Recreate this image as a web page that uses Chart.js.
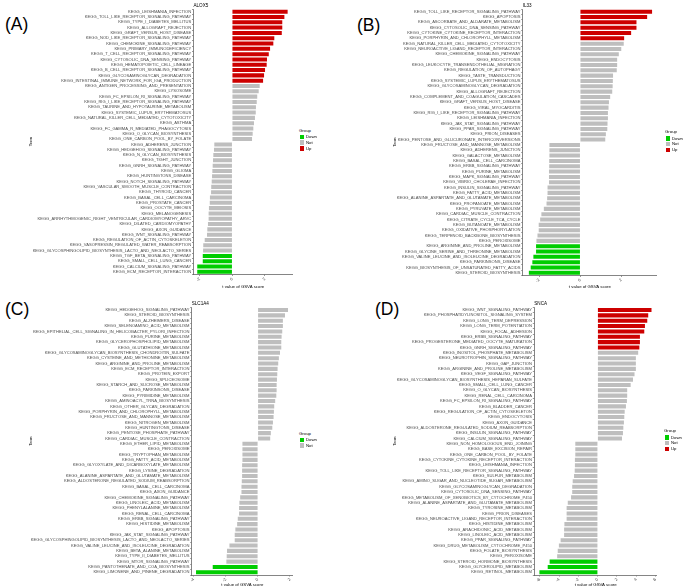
<!DOCTYPE html>
<html><head><meta charset="utf-8">
<script src="https://cdn.jsdelivr.net/npm/chart.js@4.4.0/dist/chart.umd.min.js"></script>
<style>
html,body{margin:0;padding:0;background:#fff}
body{width:685px;height:588px;position:relative;overflow:hidden;font-family:"Liberation Sans",Arial,sans-serif}
.panel{position:absolute}
.letter{position:absolute;font-size:17.5px;line-height:1;color:#000}
.lg{position:absolute;font-size:4.3px;line-height:1;color:#000;white-space:nowrap}
.sq{position:absolute;width:4.3px;height:4.3px}
</style>
</head><body>
<div class="letter" style="left:5px;top:16px">(A)</div>
<div class="letter" style="left:357px;top:17px">(B)</div>
<div class="letter" style="left:5px;top:301px">(C)</div>
<div class="letter" style="left:375px;top:301px">(D)</div>
<script>
const FONT = '"Liberation Sans", Arial, sans-serif';
const groupColors = {Up:'#CD0000', Not:'#BEBEBE', Down:'#00CD00'};
const legendOrder = ['Down','Not','Up'];
const axisTitle = 't value of GSVA score';

// ---------- Panel A : ALOX5 ----------
const aTitle = 'ALOX5';
const aTerms = ['KEGG_LEISHMANIA_INFECTION','KEGG_TOLL_LIKE_RECEPTOR_SIGNALING_PATHWAY','KEGG_TYPE_I_DIABETES_MELLITUS','KEGG_ALLOGRAFT_REJECTION','KEGG_GRAFT_VERSUS_HOST_DISEASE','KEGG_NOD_LIKE_RECEPTOR_SIGNALING_PATHWAY','KEGG_CHEMOKINE_SIGNALING_PATHWAY','KEGG_PRIMARY_IMMUNODEFICIENCY','KEGG_T_CELL_RECEPTOR_SIGNALING_PATHWAY','KEGG_CYTOSOLIC_DNA_SENSING_PATHWAY','KEGG_HEMATOPOIETIC_CELL_LINEAGE','KEGG_B_CELL_RECEPTOR_SIGNALING_PATHWAY','KEGG_GLYCOSAMINOGLYCAN_DEGRADATION','KEGG_INTESTINAL_IMMUNE_NETWORK_FOR_IGA_PRODUCTION','KEGG_ANTIGEN_PROCESSING_AND_PRESENTATION','KEGG_LYSOSOME','KEGG_FC_EPSILON_RI_SIGNALING_PATHWAY','KEGG_RIG_I_LIKE_RECEPTOR_SIGNALING_PATHWAY','KEGG_TAURINE_AND_HYPOTAURINE_METABOLISM','KEGG_SYSTEMIC_LUPUS_ERYTHEMATOSUS','KEGG_NATURAL_KILLER_CELL_MEDIATED_CYTOTOXICITY','KEGG_ASTHMA','KEGG_FC_GAMMA_R_MEDIATED_PHAGOCYTOSIS','KEGG_O_GLYCAN_BIOSYNTHESIS','KEGG_ONE_CARBON_POOL_BY_FOLATE','KEGG_ADHERENS_JUNCTION','KEGG_HEDGEHOG_SIGNALING_PATHWAY','KEGG_N_GLYCAN_BIOSYNTHESIS','KEGG_TIGHT_JUNCTION','KEGG_GNRH_SIGNALING_PATHWAY','KEGG_GLIOMA','KEGG_HUNTINGTONS_DISEASE','KEGG_NOTCH_SIGNALING_PATHWAY','KEGG_VASCULAR_SMOOTH_MUSCLE_CONTRACTION','KEGG_THYROID_CANCER','KEGG_BASAL_CELL_CARCINOMA','KEGG_PROSTATE_CANCER','KEGG_OOCYTE_MEIOSIS','KEGG_MELANOGENESIS','KEGG_ARRHYTHMOGENIC_RIGHT_VENTRICULAR_CARDIOMYOPATHY_ARVC','KEGG_DILATED_CARDIOMYOPATHY','KEGG_AXON_GUIDANCE','KEGG_WNT_SIGNALING_PATHWAY','KEGG_REGULATION_OF_ACTIN_CYTOSKELETON','KEGG_VASOPRESSIN_REGULATED_WATER_REABSORPTION','KEGG_GLYCOSPHINGOLIPID_BIOSYNTHESIS_LACTO_AND_NEOLACTO_SERIES','KEGG_TGF_BETA_SIGNALING_PATHWAY','KEGG_SMALL_CELL_LUNG_CANCER','KEGG_CALCIUM_SIGNALING_PATHWAY','KEGG_ECM_RECEPTOR_INTERACTION'];
const aValues = [3.41,3.21,3.08,3.08,3.05,2.59,2.53,2.33,2.25,2.14,2.12,2.02,1.96,1.90,1.69,1.63,1.54,1.51,1.46,1.45,1.40,1.34,1.30,1.26,1.22,-1.10,-1.12,-1.16,-1.18,-1.20,-1.22,-1.24,-1.26,-1.29,-1.30,-1.37,-1.38,-1.43,-1.45,-1.45,-1.49,-1.53,-1.55,-1.69,-1.78,-1.79,-1.81,-1.81,-2.15,-2.15];
const aGroups = ['Up','Up','Up','Up','Up','Up','Up','Up','Up','Up','Up','Up','Up','Up','Not','Not','Not','Not','Not','Not','Not','Not','Not','Not','Not','Not','Not','Not','Not','Not','Not','Not','Not','Not','Not','Not','Not','Not','Not','Not','Not','Not','Not','Not','Not','Not','Down','Down','Down','Down'];
const aTicks = [-2,0,2];

// ---------- Panel B : IL33 ----------
const bTitle = 'IL33';
const bTerms = ['KEGG_TOLL_LIKE_RECEPTOR_SIGNALING_PATHWAY','KEGG_APOPTOSIS','KEGG_ASCORBATE_AND_ALDARATE_METABOLISM','KEGG_CYTOSOLIC_DNA_SENSING_PATHWAY','KEGG_CYTOKINE_CYTOKINE_RECEPTOR_INTERACTION','KEGG_PORPHYRIN_AND_CHLOROPHYLL_METABOLISM','KEGG_NATURAL_KILLER_CELL_MEDIATED_CYTOTOXICITY','KEGG_NEUROACTIVE_LIGAND_RECEPTOR_INTERACTION','KEGG_CHEMOKINE_SIGNALING_PATHWAY','KEGG_ENDOCYTOSIS','KEGG_LEUKOCYTE_TRANSENDOTHELIAL_MIGRATION','KEGG_REGULATION_OF_AUTOPHAGY','KEGG_TASTE_TRANSDUCTION','KEGG_SYSTEMIC_LUPUS_ERYTHEMATOSUS','KEGG_GLYCOSAMINOGLYCAN_DEGRADATION','KEGG_ALLOGRAFT_REJECTION','KEGG_COMPLEMENT_AND_COAGULATION_CASCADES','KEGG_GRAFT_VERSUS_HOST_DISEASE','KEGG_VIRAL_MYOCARDITIS','KEGG_RIG_I_LIKE_RECEPTOR_SIGNALING_PATHWAY','KEGG_LEISHMANIA_INFECTION','KEGG_JAK_STAT_SIGNALING_PATHWAY','KEGG_PPAR_SIGNALING_PATHWAY','KEGG_PRION_DISEASES','KEGG_PENTOSE_AND_GLUCURONATE_INTERCONVERSIONS','KEGG_FRUCTOSE_AND_MANNOSE_METABOLISM','KEGG_ADHERENS_JUNCTION','KEGG_GALACTOSE_METABOLISM','KEGG_BASAL_CELL_CARCINOMA','KEGG_ERBB_SIGNALING_PATHWAY','KEGG_PURINE_METABOLISM','KEGG_MAPK_SIGNALING_PATHWAY','KEGG_VIBRIO_CHOLERAE_INFECTION','KEGG_INSULIN_SIGNALING_PATHWAY','KEGG_FATTY_ACID_METABOLISM','KEGG_ALANINE_ASPARTATE_AND_GLUTAMATE_METABOLISM','KEGG_PROPANOATE_METABOLISM','KEGG_PYRUVATE_METABOLISM','KEGG_CARDIAC_MUSCLE_CONTRACTION','KEGG_CITRATE_CYCLE_TCA_CYCLE','KEGG_BUTANOATE_METABOLISM','KEGG_OXIDATIVE_PHOSPHORYLATION','KEGG_TERPENOID_BACKBONE_BIOSYNTHESIS','KEGG_PEROXISOME','KEGG_ARGININE_AND_PROLINE_METABOLISM','KEGG_GLYCINE_SERINE_AND_THREONINE_METABOLISM','KEGG_VALINE_LEUCINE_AND_ISOLEUCINE_DEGRADATION','KEGG_PARKINSONS_DISEASE','KEGG_BIOSYNTHESIS_OF_UNSATURATED_FATTY_ACIDS','KEGG_STEROID_BIOSYNTHESIS'];
const bValues = [3.50,3.26,2.74,2.74,2.48,2.14,2.12,2.00,1.88,1.80,1.80,1.78,1.60,1.59,1.58,1.56,1.46,1.40,1.38,1.35,1.35,1.33,1.32,1.25,1.22,-1.50,-1.50,-1.50,-1.51,-1.51,-1.52,-1.52,-1.52,-1.59,-1.59,-1.61,-1.64,-1.77,-1.89,-1.95,-2.02,-2.02,-2.08,-2.13,-2.15,-2.15,-2.28,-2.33,-2.41,-2.50];
const bGroups = ['Up','Up','Up','Up','Up','Up','Not','Not','Not','Not','Not','Not','Not','Not','Not','Not','Not','Not','Not','Not','Not','Not','Not','Not','Not','Not','Not','Not','Not','Not','Not','Not','Not','Not','Not','Not','Not','Not','Not','Not','Not','Not','Not','Not','Down','Down','Down','Down','Down','Down'];
const bTicks = [-2,0,2];

// ---------- Panel C : SLC1A4 ----------
const cTitle = 'SLC1A4';
const cTerms = ['KEGG_HEDGEHOG_SIGNALING_PATHWAY','KEGG_STEROID_BIOSYNTHESIS','KEGG_ALZHEIMERS_DISEASE','KEGG_SELENOAMINO_ACID_METABOLISM','KEGG_EPITHELIAL_CELL_SIGNALING_IN_HELICOBACTER_PYLORI_INFECTION','KEGG_PURINE_METABOLISM','KEGG_GLYCEROPHOSPHOLIPID_METABOLISM','KEGG_GLUTATHIONE_METABOLISM','KEGG_GLYCOSAMINOGLYCAN_BIOSYNTHESIS_CHONDROITIN_SULFATE','KEGG_CYSTEINE_AND_METHIONINE_METABOLISM','KEGG_ARGININE_AND_PROLINE_METABOLISM','KEGG_ECM_RECEPTOR_INTERACTION','KEGG_PROTEIN_EXPORT','KEGG_SPLICEOSOME','KEGG_STARCH_AND_SUCROSE_METABOLISM','KEGG_PARKINSONS_DISEASE','KEGG_PYRIMIDINE_METABOLISM','KEGG_AMINOACYL_TRNA_BIOSYNTHESIS','KEGG_OTHER_GLYCAN_DEGRADATION','KEGG_PORPHYRIN_AND_CHLOROPHYLL_METABOLISM','KEGG_FRUCTOSE_AND_MANNOSE_METABOLISM','KEGG_NITROGEN_METABOLISM','KEGG_HUNTINGTONS_DISEASE','KEGG_PENTOSE_PHOSPHATE_PATHWAY','KEGG_CARDIAC_MUSCLE_CONTRACTION','KEGG_ETHER_LIPID_METABOLISM','KEGG_PEROXISOME','KEGG_TRYPTOPHAN_METABOLISM','KEGG_FATTY_ACID_METABOLISM','KEGG_GLYOXYLATE_AND_DICARBOXYLATE_METABOLISM','KEGG_LYSINE_DEGRADATION','KEGG_ALANINE_ASPARTATE_AND_GLUTAMATE_METABOLISM','KEGG_ALDOSTERONE_REGULATED_SODIUM_REABSORPTION','KEGG_BASAL_CELL_CARCINOMA','KEGG_AXON_GUIDANCE','KEGG_CHEMOKINE_SIGNALING_PATHWAY','KEGG_LINOLEIC_ACID_METABOLISM','KEGG_PHENYLALANINE_METABOLISM','KEGG_RENAL_CELL_CARCINOMA','KEGG_ERBB_SIGNALING_PATHWAY','KEGG_HISTIDINE_METABOLISM','KEGG_APOPTOSIS','KEGG_JAK_STAT_SIGNALING_PATHWAY','KEGG_GLYCOSPHINGOLIPID_BIOSYNTHESIS_LACTO_AND_NEOLACTO_SERIES','KEGG_VALINE_LEUCINE_AND_ISOLEUCINE_DEGRADATION','KEGG_BETA_ALANINE_METABOLISM','KEGG_TYPE_II_DIABETES_MELLITUS','KEGG_MTOR_SIGNALING_PATHWAY','KEGG_PANTOTHENATE_AND_COA_BIOSYNTHESIS','KEGG_LIMONENE_AND_PINENE_DEGRADATION'];
const cValues = [1.88,1.69,1.56,1.56,1.52,1.48,1.46,1.46,1.38,1.31,1.27,1.23,1.21,1.19,1.17,1.17,1.15,1.08,1.02,1.00,0.98,0.94,0.90,0.81,0.77,-0.96,-0.96,-0.96,-0.96,-0.98,-0.98,-0.98,-1.00,-1.02,-1.02,-1.10,-1.15,-1.17,-1.17,-1.25,-1.29,-1.40,-1.44,-1.44,-1.77,-1.92,-1.94,-1.96,-2.81,-3.85];
const cGroups = ['Not','Not','Not','Not','Not','Not','Not','Not','Not','Not','Not','Not','Not','Not','Not','Not','Not','Not','Not','Not','Not','Not','Not','Not','Not','Not','Not','Not','Not','Not','Not','Not','Not','Not','Not','Not','Not','Not','Not','Not','Not','Not','Not','Not','Not','Not','Not','Not','Down','Down'];
const cTicks = [-4,-2,0,2];

// ---------- Panel D : SNCA ----------
const dTitle = 'SNCA';
const dTerms = ['KEGG_WNT_SIGNALING_PATHWAY','KEGG_PHOSPHATIDYLINOSITOL_SIGNALING_SYSTEM','KEGG_LONG_TERM_DEPRESSION','KEGG_LONG_TERM_POTENTIATION','KEGG_FOCAL_ADHESION','KEGG_ERBB_SIGNALING_PATHWAY','KEGG_PROGESTERONE_MEDIATED_OOCYTE_MATURATION','KEGG_GNRH_SIGNALING_PATHWAY','KEGG_INOSITOL_PHOSPHATE_METABOLISM','KEGG_NEUROTROPHIN_SIGNALING_PATHWAY','KEGG_GAP_JUNCTION','KEGG_ARGININE_AND_PROLINE_METABOLISM','KEGG_VEGF_SIGNALING_PATHWAY','KEGG_GLYCOSAMINOGLYCAN_BIOSYNTHESIS_HEPARAN_SULFATE','KEGG_SMALL_CELL_LUNG_CANCER','KEGG_O_GLYCAN_BIOSYNTHESIS','KEGG_RENAL_CELL_CARCINOMA','KEGG_FC_EPSILON_RI_SIGNALING_PATHWAY','KEGG_BLADDER_CANCER','KEGG_REGULATION_OF_ACTIN_CYTOSKELETON','KEGG_ENDOCYTOSIS','KEGG_AXON_GUIDANCE','KEGG_ALDOSTERONE_REGULATED_SODIUM_REABSORPTION','KEGG_INSULIN_SIGNALING_PATHWAY','KEGG_CALCIUM_SIGNALING_PATHWAY','KEGG_NON_HOMOLOGOUS_END_JOINING','KEGG_BASE_EXCISION_REPAIR','KEGG_ONE_CARBON_POOL_BY_FOLATE','KEGG_CYTOKINE_CYTOKINE_RECEPTOR_INTERACTION','KEGG_LEISHMANIA_INFECTION','KEGG_TOLL_LIKE_RECEPTOR_SIGNALING_PATHWAY','KEGG_SULFUR_METABOLISM','KEGG_AMINO_SUGAR_AND_NUCLEOTIDE_SUGAR_METABOLISM','KEGG_GLYCOSAMINOGLYCAN_DEGRADATION','KEGG_CYTOSOLIC_DNA_SENSING_PATHWAY','KEGG_METABOLISM_OF_XENOBIOTICS_BY_CYTOCHROME_P450','KEGG_ALANINE_ASPARTATE_AND_GLUTAMATE_METABOLISM','KEGG_TYROSINE_METABOLISM','KEGG_PRION_DISEASES','KEGG_NEUROACTIVE_LIGAND_RECEPTOR_INTERACTION','KEGG_HISTIDINE_METABOLISM','KEGG_ARACHIDONIC_ACID_METABOLISM','KEGG_LINOLEIC_ACID_METABOLISM','KEGG_PPAR_SIGNALING_PATHWAY','KEGG_DRUG_METABOLISM_CYTOCHROME_P450','KEGG_FOLATE_BIOSYNTHESIS','KEGG_PEROXISOME','KEGG_STEROID_HORMONE_BIOSYNTHESIS','KEGG_GLYCEROLIPID_METABOLISM','KEGG_RETINOL_METABOLISM'];
const dValues = [5.58,5.24,5.14,4.90,4.83,4.38,4.38,4.32,4.20,3.96,3.96,3.96,3.82,3.66,3.42,3.06,3.06,3.03,2.93,2.80,2.76,2.72,2.66,2.62,2.52,-2.32,-2.32,-2.32,-2.36,-2.36,-2.38,-2.45,-2.59,-2.64,-2.64,-2.76,-3.10,-3.22,-3.22,-3.22,-3.45,-3.48,-3.48,-3.84,-4.02,-4.14,-4.20,-4.98,-5.18,-6.04];
const dGroups = ['Up','Up','Up','Up','Up','Up','Up','Up','Not','Not','Not','Not','Not','Not','Not','Not','Not','Not','Not','Not','Not','Not','Not','Not','Not','Not','Not','Not','Not','Not','Not','Not','Not','Not','Not','Not','Not','Not','Not','Not','Not','Not','Not','Not','Not','Not','Not','Down','Down','Down'];
const dTicks = [-6,-4,-2,0,2,4,6];

function makeLegend(left, top, groups){
  const present = legendOrder.filter(g => groups.includes(g));
  const t = document.createElement('div');
  t.className = 'lg'; t.style.left = left + 'px'; t.style.top = top + 'px';
  t.textContent = 'Group';
  document.body.appendChild(t);
  present.forEach((g, i) => {
    const y = top + 6 + i * 5.9;
    const s = document.createElement('div');
    s.className = 'sq'; s.style.left = (left + 0.5) + 'px'; s.style.top = y + 'px';
    s.style.background = groupColors[g];
    document.body.appendChild(s);
    const l = document.createElement('div');
    l.className = 'lg'; l.style.left = (left + 7) + 'px'; l.style.top = (y + 0.2) + 'px';
    l.textContent = g;
    document.body.appendChild(l);
  });
}

function makePanel(p){
  const wrap = document.createElement('div');
  wrap.className = 'panel';
  wrap.style.left = p.left + 'px'; wrap.style.top = p.top + 'px';
  wrap.style.width = p.width + 'px'; wrap.style.height = p.height + 'px';
  const cv = document.createElement('canvas');
  cv.width = p.width; cv.height = p.height;
  cv.style.width = p.width + 'px'; cv.style.height = p.height + 'px';
  wrap.appendChild(cv);
  document.body.appendChild(wrap);
  const tickFont = {family: FONT, size: 4.1};
  const lineStyle = {display: true, drawOnChartArea: false, drawTicks: true, tickLength: 1.5, color: '#333', lineWidth: 0.5};
  new Chart(cv, {
    type: 'bar',
    data: {
      labels: p.terms,
      datasets: [{
        data: p.values,
        backgroundColor: p.groups.map(g => groupColors[g]),
        borderWidth: 0,
        barPercentage: 0.76,
        categoryPercentage: 1
      }]
    },
    options: {
      indexAxis: 'y',
      responsive: false,
      animation: false,
      layout: {padding: {top: p.padTop, left: 0, right: 0, bottom: 0}},
      plugins: {
        legend: {display: false},
        tooltip: {enabled: false},
        title: {display: true, text: p.title, align: 'start', fullSize: false,
                font: {family: FONT, size: 4.6, weight: 'normal', lineHeight: 1.2}, color: '#000',
                padding: {top: 0, bottom: 1}}
      },
      scales: {
        x: {
          type: 'linear', min: p.min, max: p.max,
          afterBuildTicks: s => { s.ticks = p.ticks.map(v => ({value: v})); },
          afterFit: s => { s.height = p.xH; s.paddingLeft = 0; s.paddingRight = 0; },
          ticks: {font: tickFont, color: '#4d4d4d', minRotation: 45, maxRotation: 45, padding: 0.5, autoSkip: false},
          grid: lineStyle,
          border: {display: true, color: '#333', width: 0.6},
          title: {display: true, text: axisTitle, font: {family: FONT, size: 4.3}, color: '#000', padding: {top: 0, bottom: 0.5}}
        },
        y: {
          type: 'category',
          afterFit: s => { s.width = p.yW; },
          ticks: {font: tickFont, color: '#4d4d4d', padding: 0.8, autoSkip: false},
          grid: lineStyle,
          border: {display: true, color: '#333', width: 0.6},
          title: {display: true, text: 'Term', font: {family: FONT, size: 4.1}, color: '#000', padding: {top: p.termPad, bottom: 0}}
        }
      }
    }
  });
}

makePanel({left:0, top:0, width:293, height:290, yW:193.5, padTop:2.5, xH:15.5, termPad:28.5,
  min:-2.38, max:3.74, ticks:aTicks, terms:aTerms, values:aValues, groups:aGroups, title:aTitle});
makePanel({left:340, top:0, width:317, height:290, yW:182.7, padTop:2.5, xH:14.5, termPad:52.5,
  min:-2.8, max:3.74, ticks:bTicks, terms:bTerms, values:bValues, groups:bGroups, title:bTitle});
makePanel({left:0, top:290, width:293, height:298, yW:191.7, padTop:10.8, xH:13, termPad:28,
  min:-4.12, max:2.19, ticks:cTicks, terms:cTerms, values:cValues, groups:cGroups, title:cTitle});
makePanel({left:340, top:290, width:317, height:298, yW:194.3, padTop:10.8, xH:13, termPad:52.5,
  min:-6.57, max:6.15, ticks:dTicks, terms:dTerms, values:dValues, groups:dGroups, title:dTitle});

makeLegend(299, 128.5, aGroups);
makeLegend(665, 130.3, bGroups);
makeLegend(299, 431.5, cGroups);
makeLegend(664, 429.3, dGroups);
</script>
</body></html>
